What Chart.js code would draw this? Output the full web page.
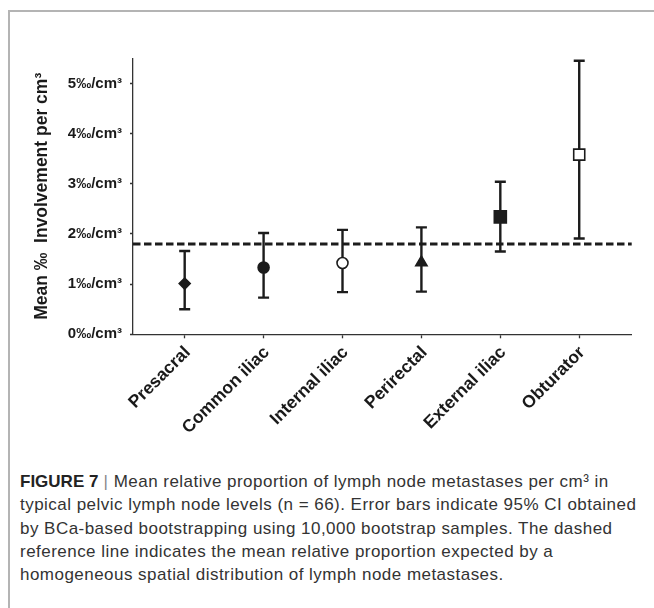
<!DOCTYPE html>
<html>
<head>
<meta charset="utf-8">
<script src="https://cdn.jsdelivr.net/npm/chart.js@4.4.1/dist/chart.umd.min.js"></script>
<style>
  body { margin: 0; background: #fff; width: 654px; height: 608px; overflow: hidden; position: relative; }
  .frame { position: absolute; left: 8px; top: 10px; width: 660px; height: 620px;
           border-left: 2px solid #b4b4b4; border-top: 2px solid #b4b4b4; }
  .plot { position: absolute; left: 0; top: 0; width: 654px; height: 450px; }
  .caption { position: absolute; left: 20px; top: 470px; white-space: nowrap;
             font-family: "Liberation Sans", Arial, sans-serif; font-size: 17px;
             letter-spacing: 0.47px; line-height: 23.3px; color: #333; }
  .caption b { color: #222; letter-spacing: 0; }
  .caption .bar { color: #888; }
</style>
</head>
<body>
<div class="frame"></div>
<div class="plot"><canvas id="chart"></canvas></div>
<div class="caption">
  <b>FIGURE 7</b> <span class="bar">|</span> Mean relative proportion of lymph node metastases per cm³ in<br>
  typical pelvic lymph node levels (n = 66). Error bars indicate 95% CI obtained<br>
  by BCa-based bootstrapping using 10,000 bootstrap samples. The dashed<br>
  reference line indicates the mean relative proportion expected by a<br>
  homogeneous spatial distribution of lymph node metastases.
</div>
<script>
// lymph node levels and their mean ‰ involvement per cm³ with 95% CI
const categories = ['Presacral', 'Common iliac', 'Internal iliac', 'Perirectal', 'External iliac', 'Obturator'];
const means   = [1.01, 1.33, 1.42, 1.43, 2.34, 3.58];
const ciLower = [0.50, 0.73, 0.84, 0.85, 1.65, 1.91];
const ciUpper = [1.66, 2.02, 2.08, 2.13, 3.04, 5.45];
const referenceLevel = 1.8;   // expected under homogeneous distribution
const yTicks = [0, 1, 2, 3, 4, 5];
const yTickSuffix = '‰/cm³';

const markerStyles = ['rectRot', 'circle', 'circle', 'triangle', 'rect', 'rect'];
const markerRadius = [5.5, 5.5, 5.5, 6.5, 8.5, 7.8];
const markerFill   = ['#1c1c1c', '#1c1c1c', '#fff', '#1c1c1c', '#1c1c1c', '#fff'];

const ink = '#1c1c1c';
const labelFont = 'Liberation Sans, Arial, sans-serif';

// dashed reference line and CI whiskers, drawn underneath the markers
const errorBars = {
  id: 'errorBars',
  beforeDatasetsDraw(chart) {
    const { ctx, chartArea, scales: { x, y } } = chart;
    ctx.save();
    ctx.strokeStyle = ink;

    ctx.lineWidth = 3;
    ctx.setLineDash([7.5, 3.5]);
    const yRef = y.getPixelForValue(referenceLevel);
    ctx.beginPath();
    ctx.moveTo(chartArea.left, yRef);
    ctx.lineTo(chartArea.right, yRef);
    ctx.stroke();

    ctx.setLineDash([]);
    ctx.lineWidth = 2.4;
    const cap = 5.5;
    categories.forEach((_, i) => {
      const px = x.getPixelForValue(i);
      const top = y.getPixelForValue(ciUpper[i]);
      const bot = y.getPixelForValue(ciLower[i]);
      ctx.beginPath();
      ctx.moveTo(px, top); ctx.lineTo(px, bot);
      ctx.moveTo(px - cap, top); ctx.lineTo(px + cap, top);
      ctx.moveTo(px - cap, bot); ctx.lineTo(px + cap, bot);
      ctx.stroke();
    });
    ctx.restore();
  }
};

new Chart(document.getElementById('chart'), {
  type: 'scatter',
  data: {
    datasets: [{
      data: means.map((m, i) => ({ x: i, y: m })),
      pointStyle: markerStyles,
      pointRadius: markerRadius,
      pointHoverRadius: markerRadius,
      backgroundColor: markerFill,
      borderColor: ink,
      borderWidth: 1.6
    }]
  },
  options: {
    responsive: true,
    maintainAspectRatio: false,
    animation: false,
    events: [],
    layout: { padding: { top: 58.3, right: 22.3, left: 0, bottom: 0 } },
    plugins: { legend: { display: false }, tooltip: { enabled: false } },
    scales: {
      x: {
        type: 'linear',
        min: -0.655,
        max: categories.length - 1 + 0.665,
        afterBuildTicks: s => { s.ticks = categories.map((_, i) => ({ value: i })); },
        afterFit: s => { s.height = 450 - 334.3; },
        grid: { drawOnChartArea: false, drawTicks: true, tickLength: 4, tickColor: '#333', tickWidth: 1.3 },
        border: { color: '#333', width: 1.3 },
        ticks: {
          autoSkip: false,
          minRotation: 45,
          maxRotation: 45,
          padding: 4,
          labelOffset: 3,
          color: '#1a1a1a',
          font: { family: labelFont, size: 17.5, weight: 'bold' },
          callback: v => categories[v]
        }
      },
      y: {
        min: 0,
        max: 5.5,
        afterBuildTicks: s => { s.ticks = yTicks.map(v => ({ value: v })); },
        afterFit: s => { s.width = 133; },
        grid: { drawOnChartArea: false, drawTicks: true, tickLength: 3, tickColor: '#333', tickWidth: 1.3 },
        border: { color: '#333', width: 1.3 },
        ticks: {
          padding: 8,
          color: '#1a1a1a',
          font: { family: labelFont, size: 15, weight: 'bold' },
          callback: v => v + yTickSuffix
        },
        title: {
          display: true,
          text: 'Mean ‰  Involvement per cm³',
          color: '#1a1a1a',
          font: { family: labelFont, size: 17.5, weight: 'bold' },
          padding: { top: 31.5, bottom: 0 }
        }
      }
    }
  },
  plugins: [errorBars]
});
</script>
</body>
</html>
